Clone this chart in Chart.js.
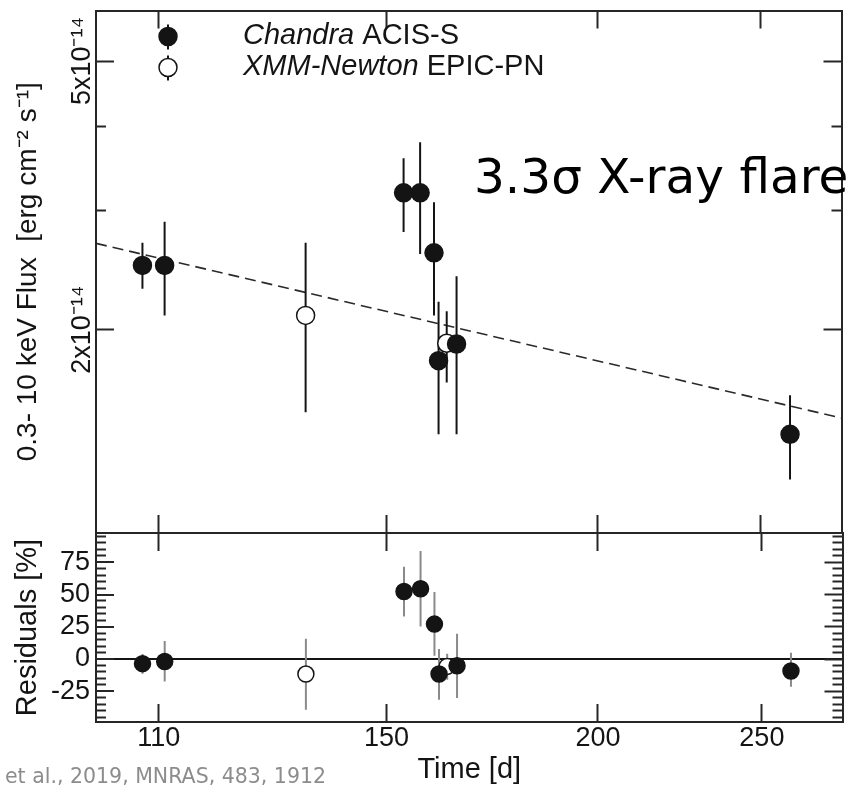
<!DOCTYPE html>
<html>
<head>
<meta charset="utf-8">
<title>X-ray light curve</title>
<script src="https://cdn.jsdelivr.net/npm/chart.js@4.4.1/dist/chart.umd.min.js"></script>
<style>
  html, body { margin: 0; padding: 0; background: #fff; }
  #wrap { position: relative; width: 852px; height: 787px; overflow: hidden; }
  #wrap canvas { position: absolute; left: 0; top: 0; }
  .note { position: absolute; white-space: nowrap; line-height: 1; }
  #flare { left: 474px; top: 152px; font-family: "DejaVu Sans", sans-serif; font-size: 48.5px; color: #000; }
  #cite { left: 5px; top: 766px; font-family: "DejaVu Sans", sans-serif; font-size: 20.5px; color: #8c8c8c; }
</style>
</head>
<body>
<div id="wrap">
  <canvas id="fluxChart" width="852" height="787"></canvas>
  <canvas id="resChart" width="852" height="787"></canvas>
  <div id="flare" class="note">3.3σ X-ray flare</div>
  <div id="cite" class="note">et al., 2019, MNRAS, 483, 1912</div>
</div>
<script>
// Observation epochs [d] and 0.3-10 keV fluxes [1e-14 erg cm^-2 s^-1]
const chandraTime = [107.6, 110.9, 153.6, 157.1, 160.1, 161.1, 165.1, 260.1];
const chandraFlux = [2.49, 2.49, 3.19, 3.19, 2.60, 1.80, 1.905, 1.40];
const chandraFluxLo = [2.30, 2.10, 2.79, 2.59, 2.10, 1.40, 1.40, 1.20];
const chandraFluxHi = [2.69, 2.89, 3.59, 3.79, 3.09, 2.20, 2.40, 1.60];

const xmmTime = [134.4, 162.9];
const xmmFlux = [2.10, 1.91];
const xmmFluxLo = [1.51, 1.67];
const xmmFluxHi = [2.69, 2.13];

// Residuals from the power-law fit [%]
const chandraRes = [-3.6, -1.9, 52.4, 54.5, 27.1, -11.6, -5.2, -9.3];
const chandraResLo = [-11.4, -17.4, 33.0, 25.3, 2.6, -31.5, -30.2, -21.5];
const chandraResHi = [3.9, 14.0, 71.5, 83.7, 51.9, 7.8, 19.6, 4.9];
const xmmRes = [-11.6, -5.7];
const xmmResLo = [-39.3, -16.0];
const xmmResHi = [15.7, 4.1];

// Power-law decay, end points across the panel
const fitTime = [101, 279];
const fitFlux = [2.685, 1.48];

// Axes
const timeRange = [101, 279];
const timeTicks = [110, 150, 200, 250];
const fluxRange = [1, 5.94];
const fluxTicks = [2, 5];
const fluxMinorTicks = [3, 4];
const resRange = [-48.8, 97.7];
const resTicks = [-25, 0, 25, 50, 75];
const resMinorTicks = [-45, -40, -35, -30, -20, -15, -10, -5, 5, 10, 15, 20,
                       30, 35, 40, 45, 55, 60, 65, 70, 80, 85, 90, 95];

const INK = '#141414';
const FRAME = '#262626';
const GREY = '#8a8a8a';
const FONT = '"Liberation Sans", Arial, Helvetica, sans-serif';

function points(t, v) {
  return t.map((x, i) => ({ x: x, y: v[i] }));
}

// vertical error bars as one broken line
function errorBars(t, lo, hi) {
  const out = [];
  t.forEach((x, i) => {
    out.push({ x: x, y: lo[i] }, { x: x, y: hi[i] }, { x: x, y: null });
  });
  return out;
}

function markers(label, data, fill, radius, order) {
  return {
    type: 'scatter', label: label, data: data, order: order,
    pointRadius: radius, pointHoverRadius: radius,
    pointBackgroundColor: fill, pointBorderColor: INK, pointBorderWidth: 1.5
  };
}

function bars(data, color, order) {
  return {
    type: 'line', data: data, order: order, spanGaps: false,
    borderColor: color, borderWidth: 2, pointRadius: 0
  };
}

// an axis that only draws inward tick marks on one side of the frame
function frameAxis(axis, position, type, range, ticks, extra) {
  return Object.assign({
    type: type, axis: axis, position: position,
    min: range[0], max: range[1],
    afterBuildTicks: s => { s.ticks = ticks.map(v => ({ value: v })); },
    afterFit: s => { if (axis === 'x') s.height = 0; else s.width = 0; },
    ticks: { display: false },
    grid: { drawOnChartArea: false, tickLength: -18, tickWidth: 2, tickColor: FRAME },
    border: { display: true, color: FRAME, width: 2 }
  }, extra || {});
}

const minorGrid = { drawOnChartArea: false, tickLength: -10, tickWidth: 2, tickColor: FRAME };

const legendPlugin = {
  id: 'obsLegend',
  afterDatasetsDraw(chart) {
    const ctx = chart.ctx;
    const area = chart.chartArea;
    const mx = area.left + 72;
    const tx = area.left + 147;
    const rows = [
      { y: area.top + 26, fill: INK, name: 'Chandra', inst: ' ACIS-S' },
      { y: area.top + 57, fill: '#fff', name: 'XMM-Newton', inst: ' EPIC-PN' }
    ];
    ctx.save();
    rows.forEach(r => {
      ctx.strokeStyle = INK;
      ctx.lineWidth = 2;
      ctx.beginPath();
      ctx.moveTo(mx, r.y - 12);
      ctx.lineTo(mx, r.y + 13);
      ctx.stroke();
      ctx.beginPath();
      ctx.arc(mx, r.y, 9, 0, Math.PI * 2);
      ctx.fillStyle = r.fill;
      ctx.fill();
      ctx.lineWidth = 1.5;
      ctx.stroke();
      ctx.fillStyle = INK;
      ctx.textBaseline = 'alphabetic';
      ctx.font = 'italic 29px ' + FONT;
      ctx.fillText(r.name, tx, r.y + 7);
      const w = ctx.measureText(r.name).width;
      ctx.font = '29px ' + FONT;
      ctx.fillText(r.inst, tx + w, r.y + 7);
    });
    ctx.restore();
  }
};

const common = {
  responsive: false,
  animation: false,
  devicePixelRatio: 1,
  events: [],
  plugins: { legend: { display: false }, tooltip: { enabled: false } }
};

// Upper panel: light curve
new Chart(document.getElementById('fluxChart'), {
  type: 'scatter',
  data: {
    datasets: [
      markers('Chandra ACIS-S', points(chandraTime, chandraFlux), INK, 9, 0),
      markers('XMM-Newton EPIC-PN', points(xmmTime, xmmFlux), '#fff', 9, 1),
      bars(errorBars(chandraTime, chandraFluxLo, chandraFluxHi), INK, 2),
      bars(errorBars(xmmTime, xmmFluxLo, xmmFluxHi), INK, 2),
      {
        type: 'line', data: points(fitTime, fitFlux), order: 3,
        borderColor: '#2a2a2a', borderWidth: 1.6, borderDash: [11, 6], pointRadius: 0
      }
    ]
  },
  options: Object.assign({}, common, {
    layout: { padding: { left: 0, right: 6, top: 6, bottom: 254 } },
    scales: {
      x: frameAxis('x', 'bottom', 'logarithmic', timeRange, timeTicks),
      xTop: frameAxis('x', 'top', 'logarithmic', timeRange, timeTicks),
      y: frameAxis('y', 'left', 'logarithmic', fluxRange, fluxTicks, {
        weight: 1,
        afterFit: s => { s.width = 96; },
        ticks: {
          display: true, minRotation: 90, maxRotation: 90, crossAlign: 'center',
          padding: -13, color: INK, font: { family: FONT, size: 27 },
          callback: v => v + 'x10\u207B\u00B9\u2074'
        },
        title: {
          display: true, text: '0.3- 10 keV Flux  [erg cm\u207B\u00B2 s\u207B\u00B9]',
          color: INK, font: { family: FONT, size: 28 }, padding: { top: 11, bottom: 0 }
        }
      }),
      yMinor: frameAxis('y', 'left', 'logarithmic', fluxRange, fluxMinorTicks, {
        weight: 0, grid: minorGrid, border: { display: false }
      }),
      yRight: frameAxis('y', 'right', 'logarithmic', fluxRange, fluxTicks),
      yRightMinor: frameAxis('y', 'right', 'logarithmic', fluxRange, fluxMinorTicks, {
        grid: minorGrid, border: { display: false }
      })
    }
  }),
  plugins: [legendPlugin]
});

// Lower panel: residuals
new Chart(document.getElementById('resChart'), {
  type: 'scatter',
  data: {
    datasets: [
      markers('Chandra ACIS-S', points(chandraTime, chandraRes), INK, 8, 0),
      markers('XMM-Newton EPIC-PN', points(xmmTime, xmmRes), '#fff', 8, 1),
      bars(errorBars(chandraTime, chandraResLo, chandraResHi), GREY, 2),
      bars(errorBars(xmmTime, xmmResLo, xmmResHi), GREY, 2)
    ]
  },
  options: Object.assign({}, common, {
    layout: { padding: { left: 0, right: 6, top: 533, bottom: 0 } },
    scales: {
      x: frameAxis('x', 'bottom', 'logarithmic', timeRange, timeTicks, {
        afterFit: s => { s.height = 65; },
        ticks: {
          display: true, autoSkip: false, maxRotation: 0, padding: 18,
          color: INK, font: { family: FONT, size: 27 }, callback: v => String(v)
        },
        title: {
          display: true, text: 'Time [d]', color: INK,
          font: { family: FONT, size: 29 }, padding: { top: 0, bottom: 0 }
        }
      }),
      xTop: frameAxis('x', 'top', 'logarithmic', timeRange, timeTicks),
      y: frameAxis('y', 'left', 'linear', resRange, resTicks, {
        weight: 1,
        afterFit: s => { s.width = 96; },
        ticks: { display: true, padding: 24, color: INK, font: { family: FONT, size: 27 } },
        grid: {
          drawOnChartArea: true, tickLength: -18, tickWidth: 2, tickColor: FRAME,
          lineWidth: 2,
          color: c => (c.tick && c.tick.value === 0 ? INK : 'rgba(0,0,0,0)')
        },
        title: {
          display: true, text: 'Residuals [%]', color: INK,
          font: { family: FONT, size: 29 }, padding: { top: 11, bottom: 0 }
        }
      }),
      yMinor: frameAxis('y', 'left', 'linear', resRange, resMinorTicks, {
        weight: 0, grid: minorGrid, border: { display: false }
      }),
      yRight: frameAxis('y', 'right', 'linear', resRange, resTicks),
      yRightMinor: frameAxis('y', 'right', 'linear', resRange, resMinorTicks, {
        grid: minorGrid, border: { display: false }
      })
    }
  })
});
</script>
</body>
</html>
